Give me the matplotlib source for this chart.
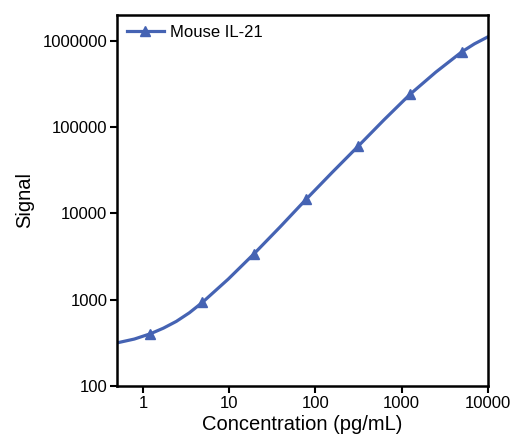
import matplotlib
matplotlib.use("Agg")
from matplotlib import pyplot as plt
from matplotlib.ticker import FixedLocator, NullLocator

plt.rcParams['font.family'] = ['Liberation Sans', 'DejaVu Sans']

# measured standards
conc = [1.22, 4.88, 19.5, 78.1, 312.5, 1250, 5000]
signal = [403, 929, 3420, 14590, 60000, 240000, 748000]

# fitted curve
curve_x = [0.5, 0.794, 1.22, 1.726, 2.44, 3.45, 4.88, 9.76, 19.5, 39.1, 78.1,
           156, 312.5, 625, 1250, 2500, 5000, 7000, 10000]
curve_y = [316, 350, 403, 468, 561, 705, 929, 1734, 3420, 7000, 14590,
           29790, 60000, 121600, 240000, 435500, 748000, 925000, 1114000]

xticks = [1, 10, 100, 1000, 10000]
yticks = [100, 1000, 10000, 100000, 1000000]

blue = '#4563b3'

fig = plt.figure(figsize=(5.14, 4.43), dpi=100)
ax = fig.add_axes([0.2276, 0.1287, 0.7214, 0.8375])

ax.plot(curve_x, curve_y, color=blue, lw=2.3, solid_joinstyle='round')
ax.plot(conc, signal, linestyle='none', marker='^', color=blue, markersize=7)
ax.plot([], [], color=blue, lw=2.3, marker='^', markersize=6.5, label='Mouse IL-21')

ax.set_xscale('log')
ax.set_yscale('log')
ax.set_xlim(0.5, 10000)
ax.set_ylim(100, 2000000)
ax.xaxis.set_major_locator(FixedLocator(xticks))
ax.yaxis.set_major_locator(FixedLocator(yticks))
ax.xaxis.set_minor_locator(NullLocator())
ax.yaxis.set_minor_locator(NullLocator())
ax.set_xticklabels([str(t) for t in xticks])
ax.set_yticklabels([str(t) for t in yticks])
ax.tick_params(direction='out', length=5, width=1.5, labelsize=12, pad=2)

for s in ax.spines.values():
    s.set_linewidth(1.8)

ax.set_xlabel('Concentration (pg/mL)', fontsize=14.5, labelpad=3)
ax.set_ylabel('Signal', fontsize=14.5, labelpad=6)

leg = ax.legend(loc='upper left', frameon=False, prop={'size': 12},
                handlelength=2.2, borderaxespad=0.2, handletextpad=0.4)

fig.savefig('out.png', dpi=100)
